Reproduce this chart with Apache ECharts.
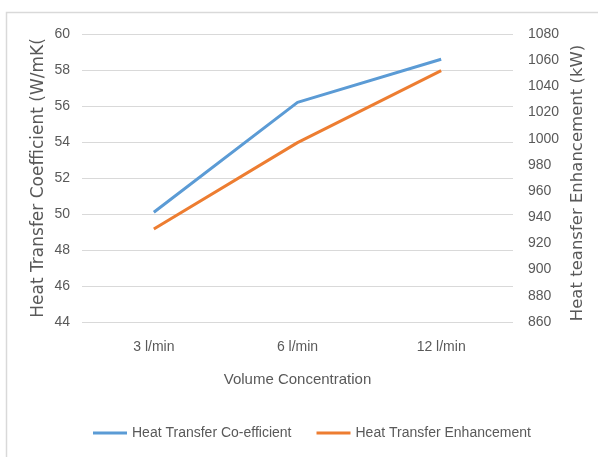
<!DOCTYPE html>
<html><head><meta charset="utf-8">
<script src="https://cdn.jsdelivr.net/npm/echarts@6/dist/echarts.min.js"></script>
<style>html,body{margin:0;padding:0;background:#fff}#c{width:598px;height:457px}</style>
</head><body><div id="c"></div>
<script>
const categories = ['3 l/min', '6 l/min', '12 l/min'];
const coefficient = [50.1, 56.2, 58.6];
const enhancement = [931, 997, 1052];
const seriesNames = ['Heat Transfer Co-efficient', 'Heat Transfer Enhancement'];

const narrow = '"Liberation Sans", sans-serif';
const wide = '"DejaVu Sans", sans-serif';
const txt = '#595959';

const chart = echarts.init(document.getElementById('c'), null, {renderer: 'canvas'});
chart.setOption({
  animation: false,
  graphic: [{type: 'rect', shape: {x: 6.5, y: 12.5, width: 700, height: 600}, style: {fill: 'none', stroke: '#d9d9d9', lineWidth: 1.5}, silent: true}],
  grid: {left: 82, right: 85, top: 34, bottom: 135},
  legend: {
    bottom: 12, left: 88, itemGap: 25, itemWidth: 34, itemHeight: 3, icon: 'rect',
    textStyle: {fontFamily: narrow, fontSize: 14, color: txt},
    data: seriesNames
  },
  xAxis: {
    type: 'category', data: categories, boundaryGap: true,
    axisLine: {show: false}, axisTick: {show: false},
    axisLabel: {fontFamily: narrow, fontSize: 14, color: txt, margin: 18},
    name: 'Volume Concentration', nameLocation: 'middle', nameGap: 50, nameMoveOverlap: false,
    nameTextStyle: {fontFamily: narrow, fontSize: 15, color: txt}
  },
  yAxis: [{
    type: 'value', min: 44, max: 60, interval: 2,
    axisLine: {show: false}, axisTick: {show: false},
    axisLabel: {fontFamily: narrow, fontSize: 14, color: txt, margin: 12},
    splitLine: {lineStyle: {color: '#d9d9d9', width: 1}},
    name: 'Heat Transfer Coefficient (W/mK(', nameLocation: 'middle', nameGap: 35, nameMoveOverlap: false,
    nameTextStyle: {fontFamily: wide, fontSize: 17, color: txt}
  }, {
    type: 'value', min: 860, max: 1080, interval: 20, position: 'right',
    axisLine: {show: false}, axisTick: {show: false},
    axisLabel: {fontFamily: narrow, fontSize: 14, color: txt, margin: 15, formatter: v => String(v)},
    splitLine: {show: false},
    name: 'Heat teansfer Enhancement (kW)', nameLocation: 'middle', nameGap: 56, nameRotate: 90, nameMoveOverlap: false,
    nameTextStyle: {fontFamily: wide, fontSize: 16.5, color: txt, padding: [0, 10, 0, 0]}
  }],
  series: [{
    name: seriesNames[0], type: 'line', data: coefficient, yAxisIndex: 0,
    symbol: 'none', lineStyle: {color: '#5B9BD5', width: 3}, itemStyle: {color: '#5B9BD5'}
  }, {
    name: seriesNames[1], type: 'line', data: enhancement, yAxisIndex: 1,
    symbol: 'none', lineStyle: {color: '#ED7D31', width: 3}, itemStyle: {color: '#ED7D31'}
  }]
});
</script></body></html>
